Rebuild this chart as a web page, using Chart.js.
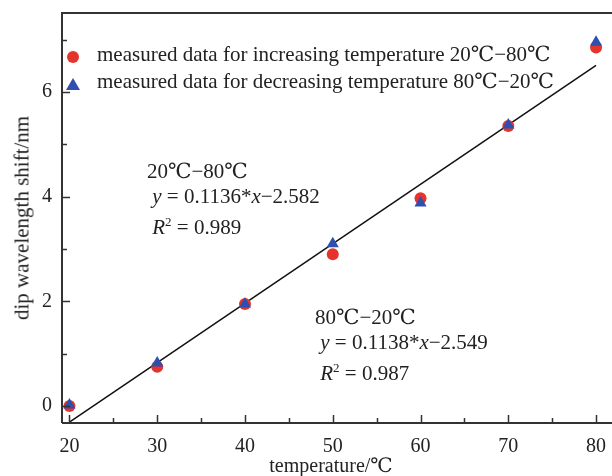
<!DOCTYPE html>
<html>
<head>
<meta charset="utf-8">
<script src="https://cdn.jsdelivr.net/npm/chart.js@4"></script>
<style>
  html, body { margin: 0; padding: 0; width: 612px; height: 476px; overflow: hidden; background: #fff; }
  #wrap { position: relative; width: 640px; height: 476px; }
  .txt { position: absolute; font-family: 'Liberation Serif', 'DejaVu Serif', serif; color: #222; white-space: nowrap; }
  .lg { font-size: 21px; line-height: 24px; }
  .ann { font-size: 21px; line-height: 25px; }
  .dot { display: inline-block; width: 12px; height: 12px; border-radius: 50%; background: #e5342b; }
  .tri { display: inline-block; width: 0; height: 0; border-left: 7px solid transparent; border-right: 7px solid transparent; border-bottom: 12px solid #2f4fae; }
</style>
</head>
<body>
<div id="wrap">
  <div style="position:absolute; left:0; top:0;"><canvas id="chart" width="640" height="476"></canvas></div>
  <div class="txt" style="left:67px; top:49px;"><span class="dot"></span></div>
  <div class="txt lg" style="left:97px; top:42px;">measured data for increasing temperature 20℃−80℃</div>
  <div class="txt" style="left:66px; top:76px;"><span class="tri"></span></div>
  <div class="txt lg" style="left:97px; top:69px;">measured data for decreasing temperature 80℃−20℃</div>

  <div class="txt ann" style="left:147px; top:159px;">20℃−80℃<br>&nbsp;<i>y</i> = 0.1136*<i>x</i>−2.582<br>&nbsp;<i>R</i><sup style="font-size:13px">2</sup> = 0.989</div>
  <div class="txt ann" style="left:315px; top:305px;">80℃−20℃<br>&nbsp;<i>y</i> = 0.1138*<i>x</i>−2.549<br>&nbsp;<i>R</i><sup style="font-size:13px">2</sup> = 0.987</div>

  <div class="txt" style="font-size:20px; left:331px; top:453px; transform:translateX(-50%);">temperature/℃</div>
  <div class="txt" style="font-size:21px; left:22px; top:218px; transform:translate(-50%,-50%) rotate(-90deg);">dip wavelength shift/nm</div>
</div>
<script>
const temps = [20, 30, 40, 50, 60, 70, 80];
const shiftUp = [0.0, 0.75, 1.95, 2.9, 3.97, 5.35, 6.85];
const shiftDown = [0.02, 0.82, 1.95, 3.1, 3.88, 5.37, 6.95];
const fitX = [20, 80];
const fitY = [-0.31, 6.51];
const xTicks = [20, 25, 30, 35, 40, 45, 50, 55, 60, 65, 70, 75, 80];
const yTicks = [0, 1, 2, 3, 4, 5, 6, 7];

const axisColor = '#333';

// frame + inward ticks
const framePlugin = {
  id: 'frame',
  afterDraw(chart) {
    const { ctx, chartArea: a, scales } = chart;
    ctx.save();
    ctx.strokeStyle = axisColor;
    ctx.lineWidth = 2;
    ctx.beginPath();
    ctx.moveTo(a.left, a.bottom);
    ctx.lineTo(a.left, a.top);
    ctx.lineTo(a.right, a.top);
    ctx.moveTo(a.left, a.bottom);
    ctx.lineTo(a.right, a.bottom);
    ctx.stroke();
    ctx.lineWidth = 1.5;
    ctx.beginPath();
    xTicks.forEach(v => {
      const px = Math.round(scales.x.getPixelForValue(v)) + 0.5;
      const len = v % 10 === 0 ? 8 : 5;
      ctx.moveTo(px, a.bottom);
      ctx.lineTo(px, a.bottom - len);
    });
    yTicks.forEach(v => {
      const py = Math.round(scales.y.getPixelForValue(v)) + 0.5;
      const len = v % 2 === 0 ? 8 : 5;
      ctx.moveTo(a.left, py);
      ctx.lineTo(a.left + len, py);
    });
    ctx.stroke();
    ctx.restore();
  }
};

new Chart(document.getElementById('chart'), {
  type: 'scatter',
  data: {
    datasets: [
      {
        type: 'line',
        data: fitX.map((x, i) => ({ x, y: fitY[i] })),
        borderColor: '#111',
        borderWidth: 1.5,
        pointRadius: 0,
        fill: false,
        order: 3
      },
      {
        data: temps.map((x, i) => ({ x, y: shiftUp[i] })),
        pointStyle: 'circle',
        pointRadius: 6,
        backgroundColor: '#e5342b',
        borderWidth: 0,
        order: 2
      },
      {
        data: temps.map((x, i) => ({ x, y: shiftDown[i] })),
        pointStyle: 'triangle',
        pointRadius: 7,
        backgroundColor: '#2f4fae',
        borderWidth: 0,
        order: 1
      }
    ]
  },
  options: {
    responsive: false,
    animation: false,
    layout: { padding: { left: 0, top: 13, right: 22, bottom: 0 } },
    plugins: { legend: { display: false }, tooltip: { enabled: false } },
    scales: {
      x: {
        type: 'linear',
        min: 19.15,
        max: 82.5,
        afterBuildTicks: s => { s.ticks = xTicks.map(v => ({ value: v })); },
        afterFit: s => { s.height = 53; s.paddingLeft = 0; s.paddingRight = 0; },
        grid: { display: false, drawTicks: false },
        border: { display: false },
        ticks: {
          padding: 12,
          color: '#222',
          font: { family: 'Liberation Serif', size: 20 },
          callback: v => (v % 10 === 0 ? v : '')
        }
      },
      y: {
        type: 'linear',
        min: -0.325,
        max: 7.51,
        afterBuildTicks: s => { s.ticks = yTicks.map(v => ({ value: v })); },
        afterFit: s => { s.width = 62; s.paddingTop = 0; s.paddingBottom = 0; },
        grid: { display: false, drawTicks: false },
        border: { display: false },
        ticks: {
          padding: 10,
          color: '#222',
          font: { family: 'Liberation Serif', size: 20 },
          callback: v => (v % 2 === 0 ? v : '')
        }
      }
    }
  },
  plugins: [framePlugin]
});
</script>
</body>
</html>
